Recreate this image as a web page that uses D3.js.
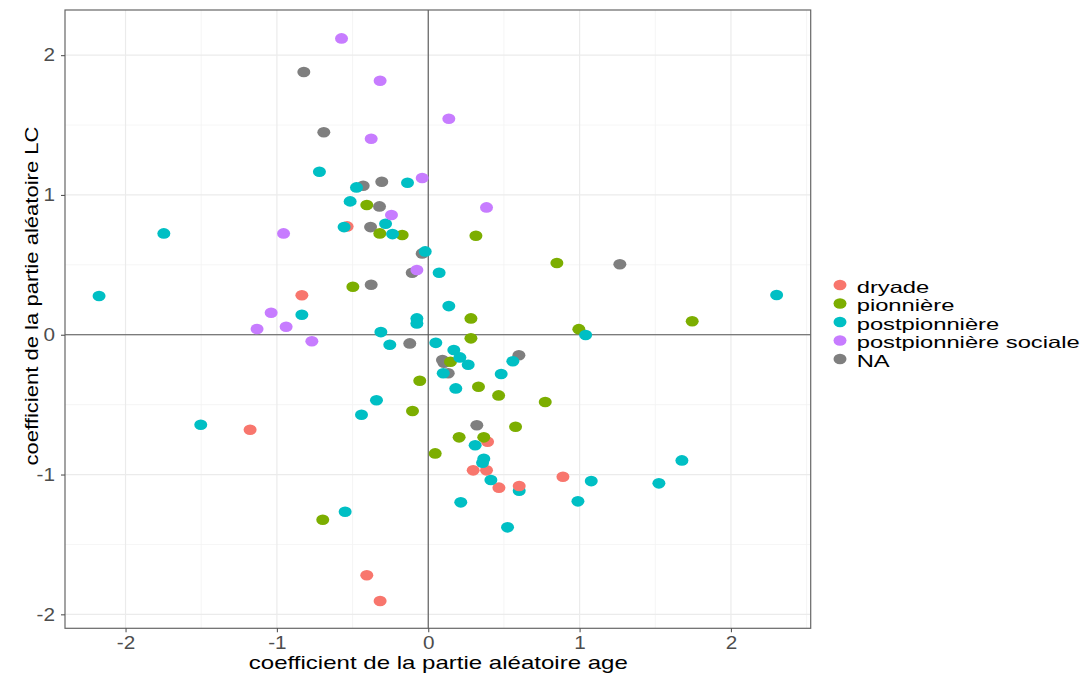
<!DOCTYPE html>
<html><head><meta charset="utf-8">
<script src="https://cdn.jsdelivr.net/npm/d3@7"></script>
<style>body{margin:0;background:#fff}svg{display:block;font-family:"Liberation Sans",Arial,sans-serif}</style>
</head><body><svg id="c" width="1090" height="675"></svg>
<script>
const categories = ["dryade","pionnière","postpionnière","postpionnière sociale","NA"];
const colors = ["#F8766D","#7CAE00","#00BFC4","#C77CFF","#7F7F7F"];
const xTicks = [-2,-1,0,1,2];
const yTicks = [-2,-1,0,1,2];
const xMinor = [-1.5,-0.5,0.5,1.5,2.5];
const yMinor = [-1.5,-0.5,0.5,1.5];

const naX = [-0.822,-0.69,-0.430,-0.307,-0.322,-0.381,-0.040,-0.106,-0.377,-0.122,0.094,0.104,0.132,0.321,0.599,1.266];
const naY = [1.88,1.448,1.066,1.094,0.918,0.770,0.582,0.443,0.358,-0.062,-0.181,-0.200,-0.276,-0.648,-0.147,0.504];
const dryX = [-0.536,-0.835,-1.177,-0.406,-0.318,0.392,0.297,0.385,0.467,0.890];
const dryY = [0.775,0.282,-0.680,-1.721,-1.905,-0.765,-0.970,-0.970,-1.094,-1.016];
const pioX = [-0.406,-0.320,-0.172,-0.498,0.315,0.850,0.282,1.744,0.995,0.282,0.147,-0.056,-0.104,0.046,-0.697,0.332,0.465,0.773,0.577,0.204,0.367];
const pioY = [0.928,0.725,0.713,0.343,0.708,0.513,0.117,0.096,0.040,-0.026,-0.193,-0.329,-0.546,-0.849,-1.323,-0.372,-0.434,-0.481,-0.658,-0.734,-0.734];
const postX = [-0.719,-0.474,-0.137,-0.516,-0.282,-0.556,-0.236,-1.747,-0.020,0.072,-2.175,-0.835,-0.075,-0.075,-0.313,-0.254,0.050,-0.342,-0.441,-1.503,-0.549,0.136,2.302,1.040,0.169,0.209,0.264,0.559,0.099,0.482,0.182,0.310,0.367,0.359,0.414,0.601,1.077,0.989,1.524,1.676,0.215,0.524];
const postY = [1.166,1.054,1.087,0.954,0.794,0.770,0.720,0.725,0.596,0.443,0.277,0.143,0.117,0.081,0.019,-0.072,-0.058,-0.469,-0.572,-0.644,-1.266,0.205,0.284,-0.002,-0.109,-0.162,-0.215,-0.190,-0.276,-0.281,-0.384,-0.791,-0.887,-0.916,-1.039,-1.116,-1.047,-1.192,-1.063,-0.899,-1.199,-1.378];
const socX = [-0.573,-0.318,-0.377,-0.040,-0.243,-0.956,-0.075,-1.038,-1.131,-0.939,-0.769,0.136,0.385];
const socY = [2.12,1.817,1.402,1.121,0.856,0.725,0.463,0.157,0.041,0.057,-0.047,1.545,0.911];
const dryLateX = [0.601];
const dryLateY = [-1.082];

const pts = [];
function add(xs, ys, g){ xs.forEach((v,i)=>pts.push({x:v,y:ys[i],g})); }
add(naX, naY, "NA");
add(dryX, dryY, "dryade");
add(pioX, pioY, "pionnière");
add(postX, postY, "postpionnière");
add(socX, socY, "postpionnière sociale");
add(dryLateX, dryLateY, "dryade");

const svg = d3.select("#c");
const L=65, R=810.7, T=10, B=628.3;
const x = d3.scaleLinear().domain([-2.40, 2.527]).range([L, R]);
const y = d3.scaleLinear().domain([-2.10, 2.323]).range([B, T]);
const color = d3.scaleOrdinal().domain(categories).range(colors);

const grid = svg.append("g");
grid.selectAll(".xm").data(xMinor).join("line").attr("x1",d=>x(d)).attr("x2",d=>x(d)).attr("y1",T).attr("y2",B).attr("stroke","#F2F2F2").attr("stroke-width",0.8);
grid.selectAll(".ym").data(yMinor).join("line").attr("y1",d=>y(d)).attr("y2",d=>y(d)).attr("x1",L).attr("x2",R).attr("stroke","#F2F2F2").attr("stroke-width",0.8);
grid.selectAll(".xM").data(xTicks).join("line").attr("x1",d=>x(d)).attr("x2",d=>x(d)).attr("y1",T).attr("y2",B).attr("stroke","#EBEBEB").attr("stroke-width",1.2);
grid.selectAll(".yM").data(yTicks).join("line").attr("y1",d=>y(d)).attr("y2",d=>y(d)).attr("x1",L).attr("x2",R).attr("stroke","#EBEBEB").attr("stroke-width",1.2);

svg.append("line").attr("x1",L).attr("x2",R).attr("y1",y(0)).attr("y2",y(0)).attr("stroke","#555").attr("stroke-width",1.1);
svg.append("line").attr("x1",x(0)).attr("x2",x(0)).attr("y1",T).attr("y2",B).attr("stroke","#555").attr("stroke-width",1.1);

svg.append("g").selectAll("ellipse").data(pts).join("ellipse")
  .attr("cx",d=>x(d.x)).attr("cy",d=>y(d.y)).attr("rx",6.5).attr("ry",5.3)
  .attr("fill",d=>color(d.g));

svg.append("rect").attr("x",L).attr("y",T).attr("width",R-L).attr("height",B-T).attr("fill","none").attr("stroke","#666").attr("stroke-width",1.2);

const ax = svg.append("g").attr("transform",`translate(0,${B})`).call(d3.axisBottom(x).tickValues(xTicks).tickSize(4).tickPadding(4).tickFormat(d3.format("d")));
const ay = svg.append("g").attr("transform",`translate(${L},0)`).call(d3.axisLeft(y).tickValues(yTicks).tickSize(4).tickPadding(6).tickFormat(d3.format("d")));
[ax,ay].forEach(a=>{
  a.select(".domain").remove();
  a.selectAll(".tick line").attr("stroke","#555").attr("stroke-width",1.1);
  a.selectAll(".tick text").attr("fill","#4D4D4D").attr("font-size",18).attr("font-family","'Liberation Sans',Arial,sans-serif")
    .text(d=>d<0?"-"+Math.abs(d):d);
  a.selectAll(".tick text").each(function(){ const w=this.getComputedTextLength(); d3.select(this).attr("textLength",w*1.15).attr("lengthAdjust","spacingAndGlyphs"); });
});

svg.append("text").attr("x",(L+R)/2+0.5).attr("y",669).attr("text-anchor","middle").attr("font-size",19).attr("fill","#000")
  .attr("textLength",379).attr("lengthAdjust","spacingAndGlyphs").text("coefficient de la partie aléatoire age");
svg.append("text").attr("transform","translate(38,296) rotate(-90)").attr("text-anchor","middle").attr("font-size",19).attr("fill","#000")
  .attr("textLength",339).attr("lengthAdjust","spacingAndGlyphs").text("coefficient de la partie aléatoire LC");

const leg = svg.append("g");
const items = leg.selectAll("g").data(categories).join("g").attr("transform",(d,i)=>`translate(0,${285+i*18.5})`);
items.append("ellipse").attr("cx",840).attr("cy",0).attr("rx",6.5).attr("ry",5.3).attr("fill",d=>color(d));
const lt = items.append("text").attr("x",856.7).attr("y",7.6).attr("font-size",16.5).attr("fill","#000").text(d=>d);
let ref = 1;
lt.each(function(d){ if(d==="postpionnière sociale") ref = 223/this.getComputedTextLength(); });
lt.each(function(){ const w=this.getComputedTextLength(); d3.select(this).attr("textLength",w*ref).attr("lengthAdjust","spacingAndGlyphs"); });
</script></body></html>
